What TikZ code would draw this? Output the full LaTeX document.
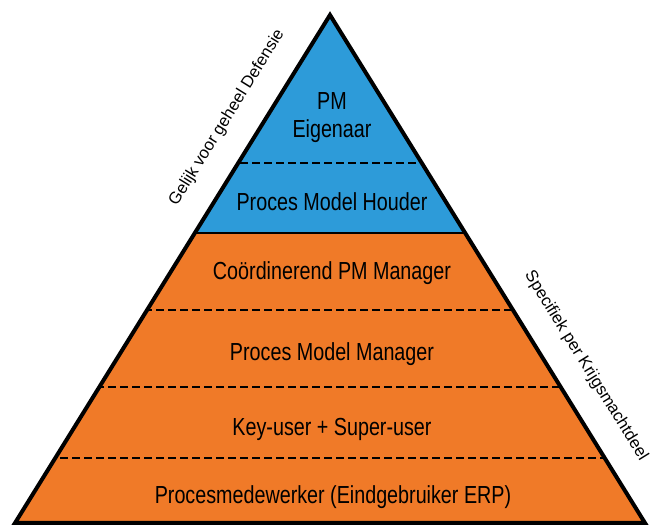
\documentclass[tikz,border=0pt]{standalone}
\usepackage{fontspec}
\setmainfont{Liberation Sans}[FakeStretch=0.8]
\newfontfamily\zijfont{Liberation Sans}
\usetikzlibrary{positioning}

\definecolor{pmblue}{RGB}{45,155,217}
\definecolor{pmorange}{RGB}{240,122,40}

\tikzset{
  laag/.style={font=\fontsize{18.5}{21}\selectfont, align=center},
  zijtekst/.style={font=\zijfont\fontsize{12.5}{15}\selectfont},
  scheiding/.style={draw=black, line width=1.6pt, dash pattern=on 6pt off 3pt},
}

\begin{document}
\begin{tikzpicture}[x=0.75pt, y=0.75pt]

   \useasboundingbox (0,0) rectangle (660,528);

   \coordinate (top) at (330,513);
   \coordinate (linksonder) at (15,5);
   \coordinate (rechtsonder) at (645,5);

   % vlakken van de piramide
   \begin{scope}
      \clip (linksonder) -- (top) -- (rechtsonder) -- cycle;
      \fill[pmblue] (0,295) rectangle (660,528);
      \fill[pmorange] (0,0) rectangle (660,295);
      \draw[line width=1.5pt] (0,295) -- (660,295);
      \draw[scheiding] (0,365) -- (660,365);
      \draw[scheiding] (0,218) -- (660,218);
      \draw[scheiding] (0,141) -- (660,141);
      \draw[scheiding] (0,70) -- (660,70);
   \end{scope}

   \draw[line width=3pt, line join=miter] (linksonder) -- (top) -- (rechtsonder) -- cycle;

   % lagen
   \node[laag] (eigenaar) at (332,410) {PM\\Eigenaar};
   \node[laag] (houder) at (332,326) {Proces Model Houder};
   \node[laag] (coordinerend) at (332,255) {Coördinerend PM Manager};
   \node[laag] (manager) at (332,174) {Proces Model Manager};
   \node[laag] (keyuser) at (332,99) {Key-user + Super-user};
   \node[laag] (medewerker) at (333,31) {Procesmedewerker (Eindgebruiker ERP)};

   % zijteksten
   \node[zijtekst, rotate=58.2] (defensie) at (227,410) {Gelijk voor geheel Defensie};
   \node[zijtekst, rotate=-58.2] (krijgsmacht) at (586,162) {Specifiek per Krijgsmachtdeel};

\end{tikzpicture}
\end{document}
